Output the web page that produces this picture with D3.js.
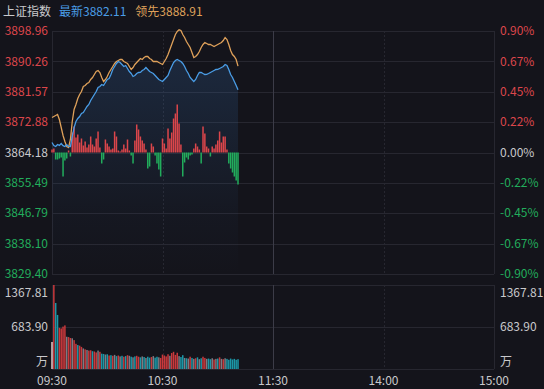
<!DOCTYPE html>
<html>
<head>
<meta charset="utf-8">
<script src="https://cdn.jsdelivr.net/npm/d3@7"></script>
<style>
    body { margin: 0; background: #14141b; }
    svg { display: block; font-family: "Noto Sans CJK SC", "Noto Sans", sans-serif; }
</style>
</head>
<body>
<div id="chart"></div>
<script>
// tick labels
const priceTicks = [3898.96, 3890.26, 3881.57, 3872.88, 3864.18, 3855.49, 3846.79, 3838.10, 3829.40];
const pctTicks = ["0.90%", "0.67%", "0.45%", "0.22%", "0.00%", "-0.22%", "-0.45%", "-0.67%", "-0.90%"];
const volTicks = ["1367.81", "683.90", "万"];
const volTickValues = [1367.81, 683.90, 0];
const timeLabels = ["09:30", "10:30", "11:30", "14:00", "15:00"];
const timeMinutes = [0, 60, 120, 180, 240];
const prevClose = 3864.18;

// 最新 (index price), one value per minute from 09:30
const latest = [
    3867.04, 3866.18, 3865.90, 3866.47, 3866.21, 3866.76, 3866.15, 3865.88, 3866.45, 3865.92,
    3865.90, 3868.76, 3871.34, 3873.05, 3873.91, 3874.49, 3875.34, 3875.63, 3876.49, 3877.35,
    3877.92, 3879.07, 3879.92, 3880.78, 3881.64, 3882.79, 3883.07, 3883.65, 3883.36, 3884.22,
    3885.08, 3885.36, 3886.51, 3887.94, 3888.80, 3889.66, 3890.23, 3889.94, 3889.37, 3888.80,
    3889.08, 3888.23, 3887.37, 3886.79, 3885.94, 3886.22, 3886.79, 3887.08, 3887.10, 3887.65,
    3887.94, 3888.51, 3887.94, 3887.37, 3887.08, 3886.79, 3886.22, 3885.65, 3885.08, 3884.79,
    3884.50, 3885.08, 3885.65, 3886.22, 3887.65, 3888.80, 3889.94, 3890.52, 3890.80, 3890.52,
    3890.23, 3889.66, 3888.80, 3887.65, 3886.79, 3885.65, 3885.08, 3884.50, 3885.08, 3886.22,
    3887.08, 3887.10, 3886.79, 3886.51, 3886.53, 3886.79, 3887.08, 3887.37, 3887.65, 3887.94,
    3887.96, 3888.23, 3888.51, 3888.80, 3889.37, 3889.08, 3887.94, 3886.51, 3885.65, 3884.50,
    3883.36, 3882.11
];

// 领先 (leading index)
const leading = [
    3874.20, 3874.49, 3874.77, 3875.06, 3873.63, 3871.34, 3869.05, 3867.33, 3865.90, 3865.61,
    3867.90, 3873.05, 3876.49, 3877.92, 3879.64, 3880.78, 3881.64, 3883.07, 3883.36, 3883.93,
    3884.22, 3885.08, 3885.65, 3886.51, 3887.37, 3887.65, 3887.08, 3885.65, 3884.50, 3885.08,
    3885.94, 3887.08, 3887.94, 3888.80, 3889.66, 3890.23, 3890.52, 3890.80, 3890.80, 3890.23,
    3889.94, 3889.66, 3888.80, 3887.94, 3888.51, 3889.37, 3889.94, 3890.52, 3891.09, 3890.80,
    3891.37, 3891.66, 3891.66, 3891.09, 3890.80, 3890.23, 3890.23, 3890.23, 3889.94, 3889.66,
    3889.37, 3890.23, 3891.09, 3892.23, 3893.66, 3895.10, 3896.53, 3897.96, 3898.82, 3899.30,
    3899.10, 3897.96, 3897.10, 3895.95, 3895.10, 3894.24, 3892.81, 3891.37, 3891.66, 3892.23,
    3893.09, 3894.24, 3895.10, 3895.67, 3895.38, 3895.10, 3895.10, 3894.81, 3894.52, 3894.81,
    3895.10, 3895.38, 3895.67, 3896.24, 3897.10, 3896.53, 3895.10, 3893.38, 3892.23, 3891.66,
    3890.80, 3888.91
];

// buy / sell strength bars (red up, green down)
const strength = [
    3, 4, -7, -7, -6, -5, -24, -8, -6, 2,
    -4, 20, 26, 15, 18, 10, 14, 7, 11, 5,
    8, 16, 8, 6, 14, 21, 5, -11, -7, 13,
    9, 6, 3, 4, 21, 16, 2, 1, 3, 8,
    4, 13, 2, -3, -11, 12, 28, 23, 16, 12,
    9, 3, -16, -14, 9, 6, -3, -11, -17, -24,
    14, 9, 4, 24, 14, 20, 34, 39, 48, 29,
    8, -24, -10, -5, -7, -3, -2, 4, 9, 6,
    3, -11, 26, 19, 6, 4, -4, 6, 4, 8,
    12, 21, 10, 16, 16, 3, -11, -16, -20, -24,
    -28, -32
];

// volume (万) and colour direction: u up, d down, f flat, o open
const volume = [
    440, 1367.81, 1075, 880, 670, 660, 690, 710, 525, 520,
    505, 500, 470, 410, 390, 380, 360, 335, 320, 310,
    300, 305, 290, 285, 270, 300, 280, 250, 245, 235,
    240, 220, 225, 215, 230, 210, 220, 205, 215, 200,
    210, 225, 215, 200, 190, 205, 215, 200, 190, 205,
    195, 180, 200, 185, 195, 210, 185, 200, 190, 180,
    235, 220, 205, 240, 215, 260, 280, 230, 265, 210,
    195, 225, 180, 175, 170, 200, 180, 165, 175, 190,
    160, 175, 200, 180, 165, 170, 160, 175, 155, 165,
    170, 190, 165, 160, 175, 165, 150, 170, 155, 165,
    150, 160
];
const volDir = [
    "o", "u", "d", "d", "u", "u", "u", "u", "f", "u",
    "u", "f", "u", "u", "d", "u", "u", "f", "u", "f",
    "u", "u", "d", "u", "u", "f", "u", "d", "d", "f",
    "d", "u", "d", "u", "f", "d", "u", "f", "d", "u",
    "d", "u", "f", "d", "f", "d", "u", "u", "d", "f",
    "d", "f", "d", "d", "u", "f", "d", "d", "f", "u",
    "u", "u", "u", "u", "f", "u", "u", "u", "u", "f",
    "d", "d", "f", "d", "f", "u", "d", "f", "u", "d",
    "f", "d", "u", "u", "f", "d", "d", "f", "u", "f",
    "d", "u", "f", "u", "f", "d", "d", "d", "d", "d",
    "d", "d"
];

const colors = {
    bg: "#14141b",
    grid: "#272730",
    gridStrong: "#3c3c48",
    red: "#dc464b",
    green: "#22ad5c",
    neutral: "#c9c9cc",
    blue: "#4a9de6",
    orange: "#dfa15a",
    volUp: "#c9393c",
    volDown: "#1c98a8",
    volFlat: "#7c7c84",
    volOpen: "#e6c9c9"
};

const W = 544, H = 389;
const pane = { left: 52, right: 494, top: 31, bottom: 274, volTop: 285, volBottom: 369 };

const svg = d3.select("#chart").append("svg")
    .attr("width", W)
    .attr("height", H);

svg.append("rect").attr("width", W).attr("height", H).attr("fill", colors.bg);

const x = d3.scaleLinear().domain([0, 240]).range([pane.left, pane.right]);
const yPrice = d3.scaleLinear()
    .domain([priceTicks[priceTicks.length - 1], priceTicks[0]])
    .range([pane.bottom, pane.top]);
const yVol = d3.scaleLinear().domain([0, 1367.81]).range([pane.volBottom, pane.volTop]);
const zeroY = yPrice(prevClose);
const yStrength = d3.scaleLinear().domain([-60, 60]).range([zeroY + 60, zeroY - 60]);

// grid
const grid = svg.append("g").attr("shape-rendering", "crispEdges");
priceTicks.forEach(p => {
    grid.append("line")
        .attr("x1", pane.left).attr("x2", pane.right)
        .attr("y1", Math.round(yPrice(p)) + 0.5).attr("y2", Math.round(yPrice(p)) + 0.5)
        .attr("stroke", colors.grid);
});
volTickValues.forEach(v => {
    grid.append("line")
        .attr("x1", pane.left).attr("x2", pane.right)
        .attr("y1", Math.round(yVol(v)) + 0.5).attr("y2", Math.round(yVol(v)) + 0.5)
        .attr("stroke", colors.grid);
});
timeMinutes.forEach((m, i) => {
    const xx = Math.round(x(m)) + 0.5;
    const dashed = (i === 1 || i === 3);
    [[pane.top, pane.bottom], [pane.volTop, pane.volBottom]].forEach(([a, b]) => {
        grid.append("line")
            .attr("x1", xx).attr("x2", xx)
            .attr("y1", a).attr("y2", b)
            .attr("stroke", i === 2 ? colors.gridStrong : colors.grid)
            .attr("stroke-dasharray", dashed ? "2,2" : null);
    });
});

// area under latest price
const defs = svg.append("defs");
const grad = defs.append("linearGradient")
    .attr("id", "areaFill")
    .attr("gradientUnits", "userSpaceOnUse")
    .attr("x1", 0).attr("y1", pane.top).attr("x2", 0).attr("y2", pane.bottom);
grad.append("stop").attr("offset", "0%").attr("stop-color", "#3a78c0").attr("stop-opacity", 0.24);
grad.append("stop").attr("offset", "75%").attr("stop-color", "#3a78c0").attr("stop-opacity", 0.04);
grad.append("stop").attr("offset", "100%").attr("stop-color", "#3a78c0").attr("stop-opacity", 0.0);

const area = d3.area()
    .x((d, i) => x(i))
    .y0(pane.bottom)
    .y1(d => yPrice(d));

svg.append("path")
    .datum(latest)
    .attr("d", area)
    .attr("fill", "url(#areaFill)");

// strength bars
svg.append("g").selectAll("rect")
    .data(strength)
    .join("rect")
    .attr("x", (d, i) => x(i) - 0.75)
    .attr("width", 1.5)
    .attr("y", d => d >= 0 ? yStrength(d) : zeroY)
    .attr("height", d => Math.abs(yStrength(d) - zeroY))
    .attr("fill", d => d >= 0 ? colors.red : colors.green);

// lines
const line = d3.line()
    .x((d, i) => x(i))
    .y(d => yPrice(d));

svg.append("path")
    .datum(leading)
    .attr("d", line)
    .attr("fill", "none")
    .attr("stroke", colors.orange)
    .attr("stroke-width", 1.3);

svg.append("path")
    .datum(latest)
    .attr("d", line)
    .attr("fill", "none")
    .attr("stroke", colors.blue)
    .attr("stroke-width", 1.3);

// volume bars
const volColor = { u: colors.volUp, d: colors.volDown, f: colors.volFlat, o: colors.volOpen };
svg.append("g").selectAll("rect")
    .data(volume)
    .join("rect")
    .attr("x", (d, i) => x(i) - 0.75)
    .attr("width", 1.5)
    .attr("y", d => yVol(d))
    .attr("height", d => pane.volBottom - yVol(d))
    .attr("fill", (d, i) => volColor[volDir[i]]);

// price labels
const labelColor = i => i < 4 ? colors.red : (i === 4 ? colors.neutral : colors.green);
priceTicks.forEach((p, i) => {
    svg.append("text")
        .attr("x", 48).attr("y", yPrice(p))
        .attr("dy", "0.35em")
        .attr("text-anchor", "end")
        .attr("font-size", 12)
        .attr("fill", labelColor(i))
        .text(p.toFixed(2));
    svg.append("text")
        .attr("x", 500).attr("y", yPrice(p))
        .attr("dy", "0.35em")
        .attr("font-size", 12)
        .attr("fill", labelColor(i))
        .text(pctTicks[i]);
});

// volume labels
const volLabelY = [pane.volTop + 8, yVol(683.90), pane.volBottom - 7];
volTicks.forEach((t, i) => {
    svg.append("text")
        .attr("x", 48).attr("y", volLabelY[i])
        .attr("dy", "0.35em")
        .attr("text-anchor", "end")
        .attr("font-size", 12)
        .attr("fill", colors.neutral)
        .text(t);
    svg.append("text")
        .attr("x", 500).attr("y", volLabelY[i])
        .attr("dy", "0.35em")
        .attr("font-size", 12)
        .attr("fill", colors.neutral)
        .text(t);
});

// time axis
timeLabels.forEach((t, i) => {
    svg.append("text")
        .attr("x", x(timeMinutes[i])).attr("y", 381)
        .attr("dy", "0.35em")
        .attr("text-anchor", "middle")
        .attr("font-size", 12)
        .attr("fill", colors.neutral)
        .text(t);
});

// header
const header = svg.append("text").attr("x", 3).attr("y", 12).attr("dy", "0.35em").attr("font-size", 12);
header.append("tspan").attr("fill", colors.neutral).text("上证指数");
header.append("tspan").attr("dx", 8).attr("fill", colors.blue).text("最新" + latest[latest.length - 1].toFixed(2));
header.append("tspan").attr("dx", 9).attr("fill", colors.orange).text("领先" + leading[leading.length - 1].toFixed(2));
</script>
</body>
</html>
